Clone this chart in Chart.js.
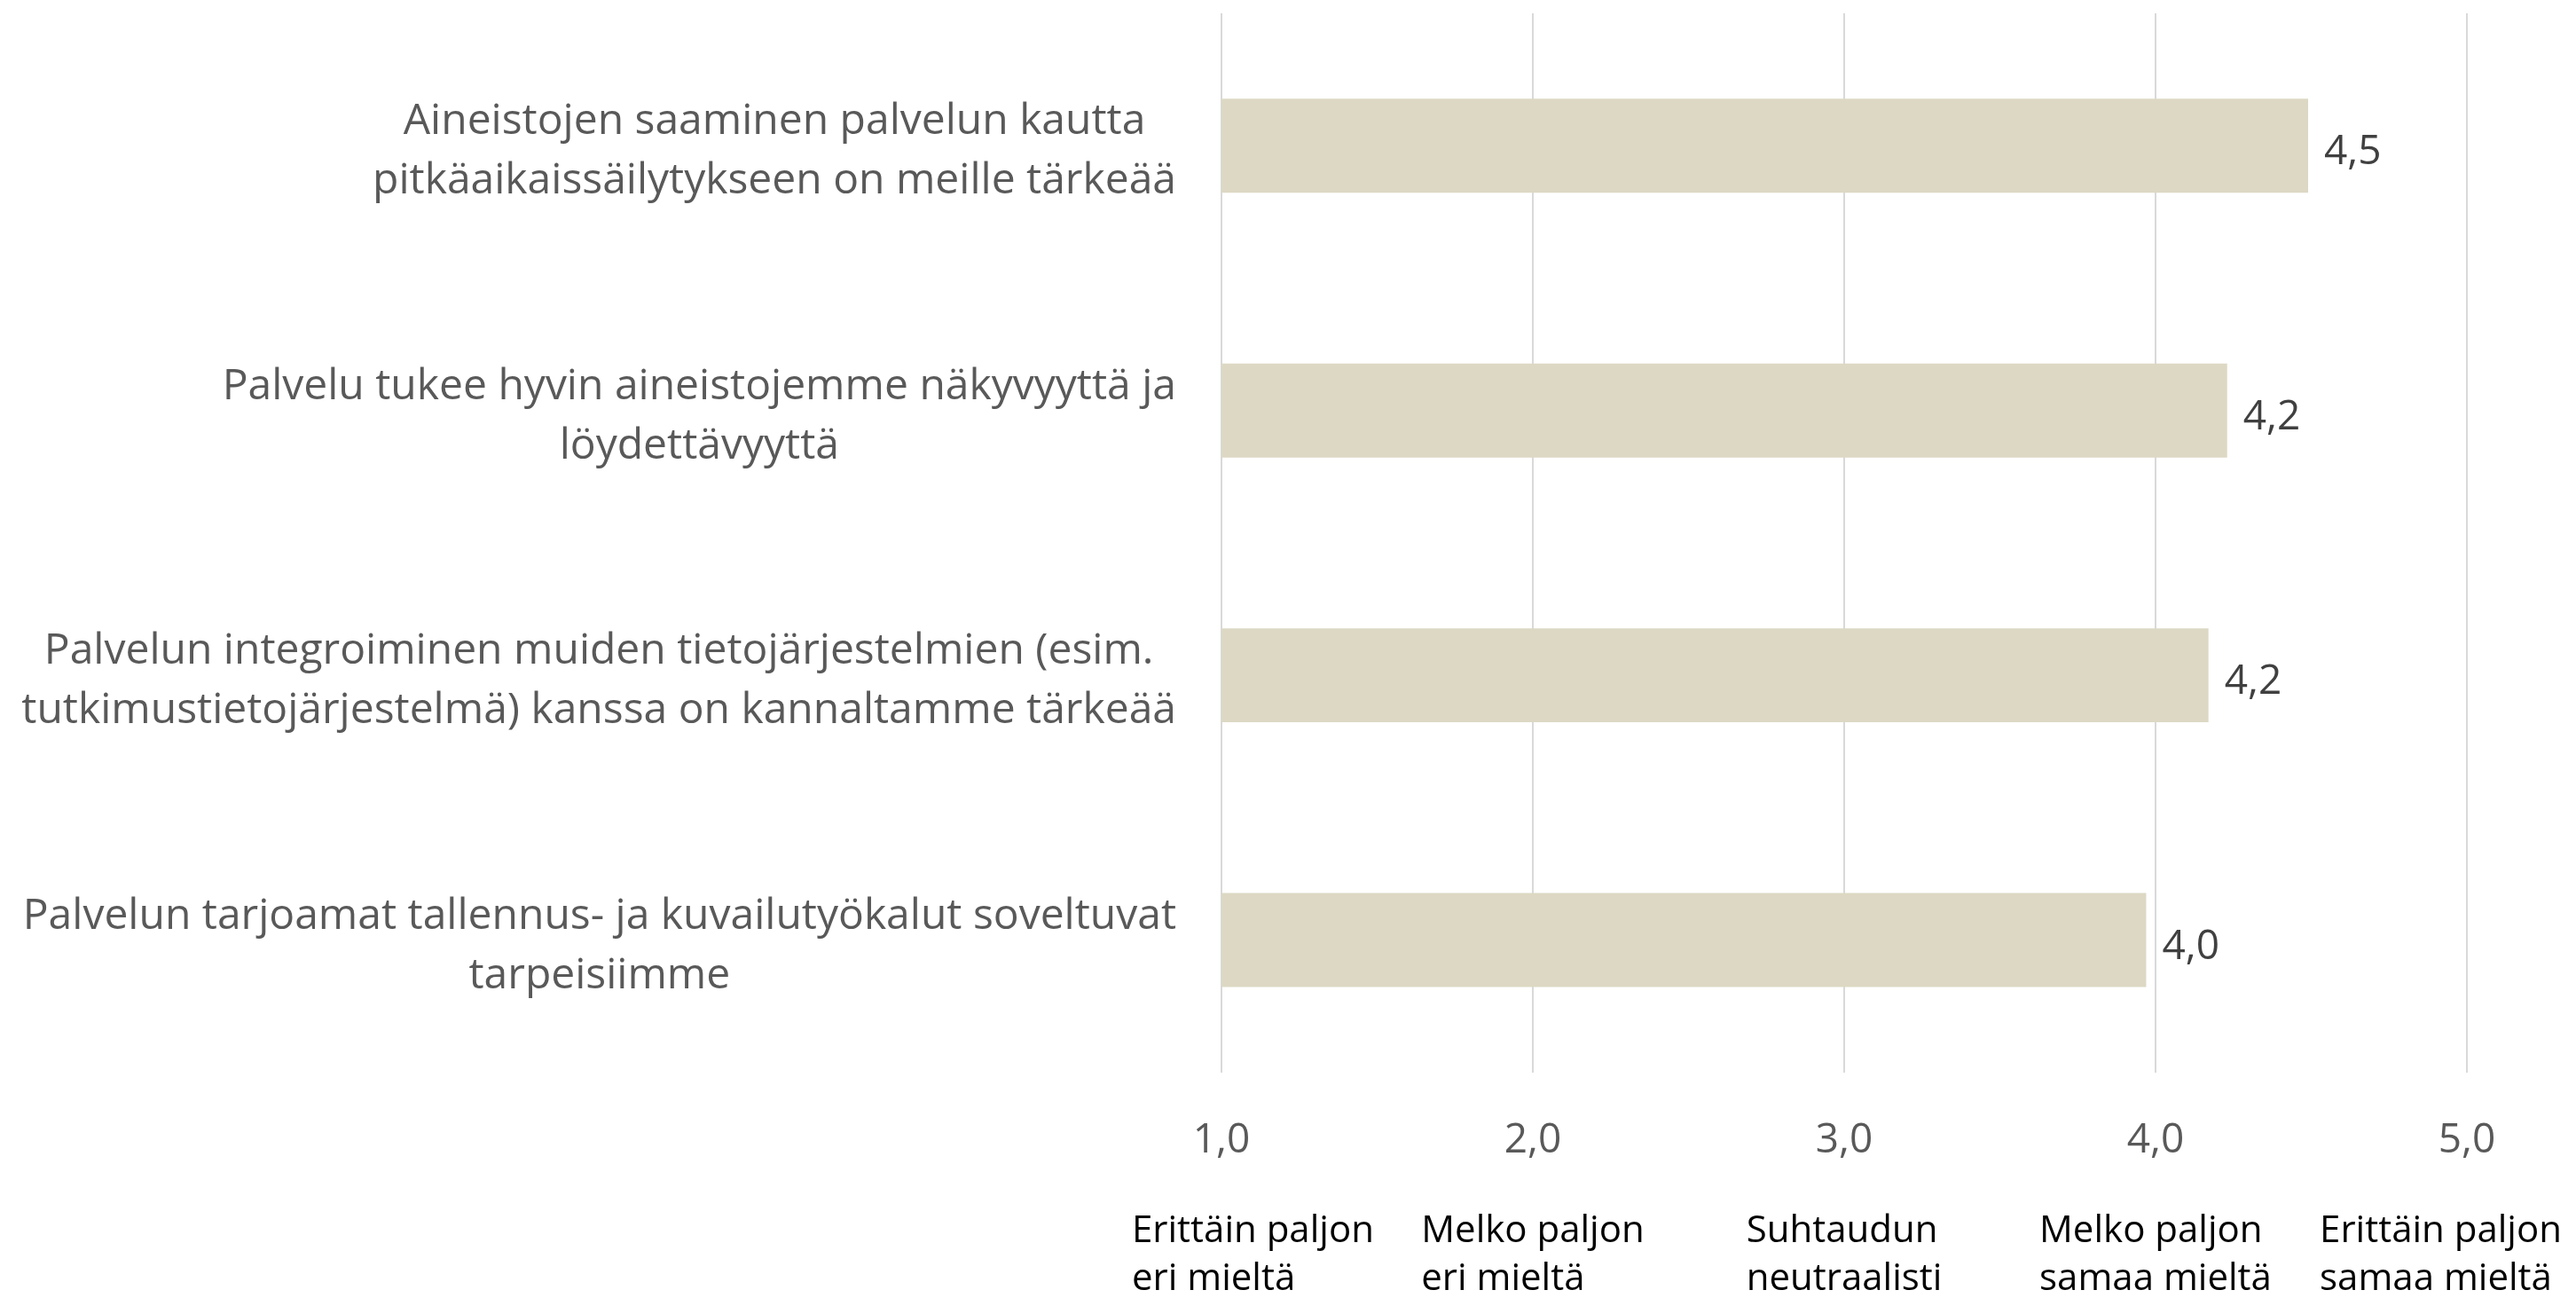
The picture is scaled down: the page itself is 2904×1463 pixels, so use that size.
<!DOCTYPE html>
<html lang="fi">
<head>
<meta charset="utf-8">
<script src="https://cdn.jsdelivr.net/npm/chart.js@4"></script>
<style>
    html, body { margin: 0; padding: 0; background: #fff; }
    #wrap { width: 2904px; height: 1463px; position: relative; }
</style>
</head>
<body>
<div id="wrap"><canvas id="chart"></canvas></div>
<script>
// ---- Data ----
const CATEGORIES = [
    ['Aineistojen saaminen palvelun kautta', 'pitkäaikaissäilytykseen on meille tärkeää'],
    ['Palvelu tukee hyvin aineistojemme näkyvyyttä ja', 'löydettävyyttä'],
    ['Palvelun integroiminen muiden tietojärjestelmien (esim.', 'tutkimustietojärjestelmä) kanssa on kannaltamme tärkeää'],
    ['Palvelun tarjoamat tallennus- ja kuvailutyökalut soveltuvat', 'tarpeisiimme']
];
const MEANS = [4.49, 4.23, 4.17, 3.97];
const SCALE_MIN = 1;
const SCALE_MAX = 5;
const SCALE_LABELS = [
    ['Erittäin paljon', 'eri mieltä'],
    ['Melko paljon', 'eri mieltä'],
    ['Suhtaudun', 'neutraalisti'],
    ['Melko paljon', 'samaa mieltä'],
    ['Erittäin paljon', 'samaa mieltä']
];

const FONT = "'Open Sans', 'Noto Sans', sans-serif";
const fmtFi = v => v.toFixed(1).replace('.', ',');

// ---- Plugins: category labels, value labels, scale descriptions ----
const categoryLabels = {
    id: 'categoryLabels',
    afterDraw(chart) {
        const { ctx, chartArea, scales } = chart;
        ctx.save();
        ctx.font = `48px ${FONT}`;
        ctx.fillStyle = '#595959';
        ctx.textAlign = 'center';
        ctx.textBaseline = 'middle';
        CATEGORIES.forEach((lines, i) => {
            const y = scales.y.getPixelForValue(i) + 7;
            const w = Math.max(...lines.map(l => ctx.measureText(l).width));
            const cx = chartArea.left - 51 - w / 2;
            lines.forEach((l, j) => {
                ctx.fillText(l, cx, y + (j - (lines.length - 1) / 2) * 67);
            });
        });
        ctx.restore();
    }
};

const valueLabels = {
    id: 'valueLabels',
    afterDatasetsDraw(chart) {
        const { ctx } = chart;
        ctx.save();
        ctx.font = `46px ${FONT}`;
        ctx.fillStyle = '#404040';
        ctx.textAlign = 'left';
        ctx.textBaseline = 'middle';
        chart.getDatasetMeta(0).data.forEach((bar, i) => {
            ctx.fillText(fmtFi(MEANS[i]), bar.x + 18, bar.y + 8);
        });
        ctx.restore();
    }
};

const scaleLabels = {
    id: 'scaleLabels',
    afterDraw(chart) {
        const { ctx, chartArea, scales } = chart;
        ctx.save();
        ctx.font = `42px ${FONT}`;
        ctx.fillStyle = '#000';
        ctx.textAlign = 'left';
        ctx.textBaseline = 'middle';
        SCALE_LABELS.forEach((lines, i) => {
            const x = scales.x.getPixelForValue(SCALE_MIN + i);
            const w = Math.max(...lines.map(l => ctx.measureText(l).width));
            let left = Math.max(x - w / 2, chartArea.left - 101);
            if (left + w > chart.width - 16) left = chart.width - 16 - w;
            lines.forEach((l, j) => {
                ctx.fillText(l, left, chartArea.bottom + 179 + j * 54);
            });
        });
        ctx.restore();
    }
};

// ---- Chart ----
new Chart(document.getElementById('chart'), {
    type: 'bar',
    data: {
        labels: CATEGORIES,
        datasets: [{
            data: MEANS,
            backgroundColor: '#ddd8c3',
            borderWidth: 0,
            barPercentage: 0.355,
            categoryPercentage: 1
        }]
    },
    options: {
        indexAxis: 'y',
        responsive: true,
        maintainAspectRatio: false,
        animation: false,
        layout: { padding: { left: 1377, right: 123, top: 15, bottom: 101 } },
        plugins: { legend: { display: false }, tooltip: { enabled: false } },
        scales: {
            x: {
                min: SCALE_MIN,
                max: SCALE_MAX,
                ticks: {
                    stepSize: 1,
                    padding: 49,
                    color: '#595959',
                    font: { family: FONT, size: 46 },
                    callback: v => fmtFi(v)
                },
                grid: { color: '#d9d9d9', lineWidth: 2, drawTicks: false },
                border: { display: false }
            },
            y: { display: false }
        }
    },
    plugins: [categoryLabels, valueLabels, scaleLabels]
});
</script>
</body>
</html>
